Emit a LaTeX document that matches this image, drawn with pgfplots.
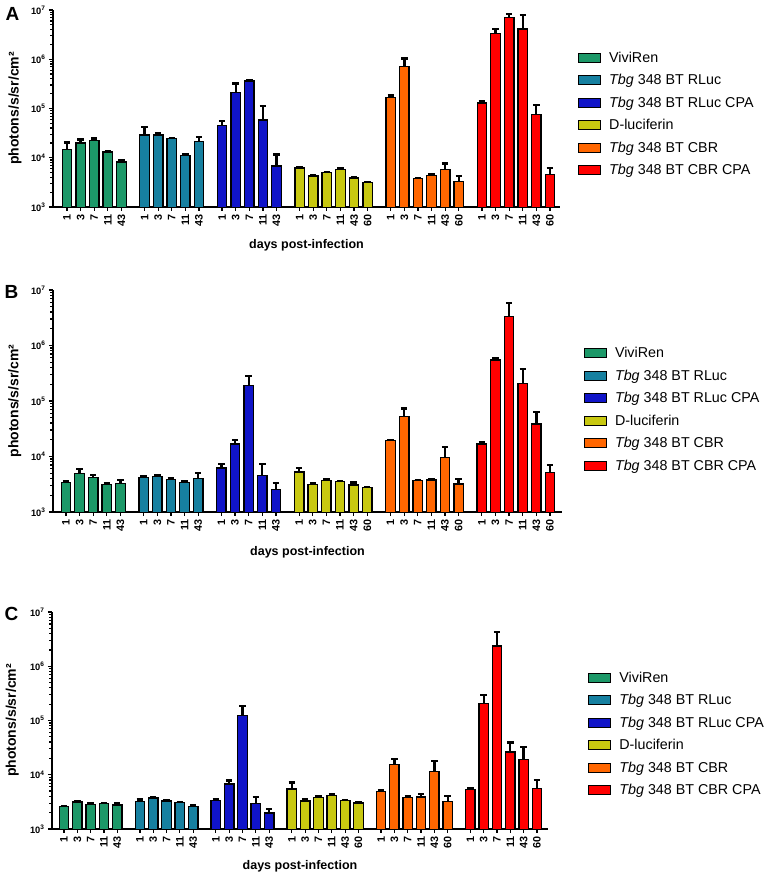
\documentclass[border=0pt]{standalone}
\usepackage{pgfplots}
\pgfplotsset{compat=1.18}
\usepackage{fontspec}
\setmainfont{Liberation Sans}
\definecolor{cgreen}{RGB}{28,152,104}
\definecolor{cteal}{RGB}{22,128,160}
\definecolor{cblue}{RGB}{16,20,200}
\definecolor{cyellow}{RGB}{200,200,16}
\definecolor{corange}{RGB}{255,102,0}
\definecolor{cred}{RGB}{255,0,0}
\pgfplotsset{
  every axis/.append style={
    scale only axis,
    axis lines*=left,
    x axis line style={-, line width=1.6pt}, y axis line style={-, line width=1.6pt},
    tick align=outside, major tick length=4pt, minor tick length=2.5pt,
    tick style={black, line width=1.2pt},
    ytick={1000,10000,100000,1000000,10000000},
    yticklabels={10\textsuperscript{3},10\textsuperscript{4},10\textsuperscript{5},10\textsuperscript{6},10\textsuperscript{7}},
    yticklabel style={font=\bfseries\fontsize{9.3}{10}\selectfont},
    xtick={0,1,2,3,4,5.7,6.7,7.7,8.7,9.7,11.4,12.4,13.4,14.4,15.4,17.1,18.1,19.1,20.1,21.1,22.1,23.8,24.8,25.8,26.8,27.8,28.8,30.5,31.5,32.5,33.5,34.5,35.5},
    xticklabels={1,3,7,11,43,1,3,7,11,43,1,3,7,11,43,1,3,7,11,43,60,1,3,7,11,43,60,1,3,7,11,43,60},
    xticklabel style={rotate=90, anchor=east, font=\bfseries\fontsize{10.8}{11}\selectfont},
    xlabel style={font=\bfseries\fontsize{12.5}{13}\selectfont, anchor=center},
    ylabel style={font=\bfseries\fontsize{14}{15}\selectfont, anchor=center},
    legend cell align=left,
    legend style={draw=none, fill=none, anchor=west, font=\fontsize{14.3}{15}\selectfont,
      row sep=6.6pt, column sep=6pt},
  },
  mybars/.style={ybar, bar width=9.5pt, bar shift=0pt, draw=black, line width=1.3pt, fill=#1,
    error bars/y dir=plus, error bars/y explicit,
    error bars/error bar style={line width=2.3pt, black},
    error bars/error mark options={rotate=90, line width=2.3pt, black, mark size=3.2pt},
    legend image code/.code={\draw[fill=#1, draw=black, line width=1pt] (0pt,-4.5pt) rectangle (22pt,4.5pt);}},
}
\begin{document}
\begin{tikzpicture}
\useasboundingbox (0pt,0pt) rectangle (768pt,878pt);
\node[font=\bfseries\fontsize{19}{19}\selectfont] at (12.5pt,864.5pt) {A};
\node[font=\bfseries\fontsize{19}{19}\selectfont] at (11.5pt,586pt) {B};
\node[font=\bfseries\fontsize{19}{19}\selectfont] at (11.5pt,264pt) {C};
% ---------------- Panel A
\begin{axis}[ymode=log, ymin=1000, ymax=10000000,
  at={(53pt,671pt)}, anchor=south west, width=507pt, height=197pt, xmin=-1.03, xmax=36.24,
  xlabel={days post-infection}, ylabel={photons/s/sr/cm²},
  xlabel style={at={(axis description cs:0.5,-0.193)}},
  ylabel style={at={(axis description cs:-0.075,0.5)}},
  legend style={at={(axis description cs:1.0296,0.472)}}]
\addplot[mybars=cgreen] table[x=x,y=y,y error plus=e,row sep=\\] {x y e\\ 0 14900 5400\\ 1 20000 3400\\ 2 22700 1800\\ 3 13100 700\\ 4 8200 600\\};
\addplot[mybars=cteal] table[x=x,y=y,y error plus=e,row sep=\\] {x y e\\ 5.7 29100 12700\\ 6.7 29000 2000\\ 7.7 24500 900\\ 8.7 11100 500\\ 9.7 21700 4400\\};
\addplot[mybars=cblue] table[x=x,y=y,y error plus=e,row sep=\\] {x y e\\ 11.4 45100 11000\\ 12.4 211000 112000\\ 13.4 360000 15000\\ 14.4 58000 53000\\ 15.4 6800 4800\\};
\addplot[mybars=cyellow] table[x=x,y=y,y error plus=e,row sep=\\] {x y e\\ 17.1 6200 300\\ 18.1 4270 150\\ 19.1 4990 200\\ 20.1 5840 450\\ 21.1 3890 200\\ 22.1 3130 120\\};
\addplot[mybars=corange] table[x=x,y=y,y error plus=e,row sep=\\] {x y e\\ 23.8 165000 19000\\ 24.8 704000 336000\\ 25.8 3770 150\\ 26.8 4400 200\\ 27.8 5750 1850\\ 28.8 3330 870\\};
\addplot[mybars=cred] table[x=x,y=y,y error plus=e,row sep=\\] {x y e\\ 30.5 130000 12000\\ 31.5 3350000 700000\\ 32.5 7100000 1200000\\ 33.5 4100000 3800000\\ 34.5 75500 41500\\ 35.5 4600 1600\\};
\legend{ViviRen,\textit{Tbg} 348 BT RLuc,\textit{Tbg} 348 BT RLuc CPA,D-luciferin,\textit{Tbg} 348 BT CBR,\textit{Tbg} 348 BT CBR CPA}
\end{axis}
% ---------------- Panel B
\begin{axis}[ymode=log, ymin=1000, ymax=10000000,
  at={(53pt,366pt)}, anchor=south west, width=509pt, height=222pt, xmin=-0.95, xmax=36.38,
  xlabel={days post-infection}, ylabel={photons/s/sr/cm²},
  xlabel style={at={(axis description cs:0.5,-0.18)}},
  ylabel style={at={(axis description cs:-0.075,0.5)}},
  legend style={at={(axis description cs:1.037,0.461)}}]
\addplot[mybars=cgreen] table[x=x,y=y,y error plus=e,row sep=\\] {x y e\\ 0 3430 190\\ 1 4980 890\\ 2 4160 480\\ 3 3150 150\\ 4 3290 480\\};
\addplot[mybars=cteal] table[x=x,y=y,y error plus=e,row sep=\\] {x y e\\ 5.7 4160 340\\ 6.7 4390 200\\ 7.7 3880 150\\ 8.7 3430 150\\ 9.7 4040 1070\\};
\addplot[mybars=cblue] table[x=x,y=y,y error plus=e,row sep=\\] {x y e\\ 11.4 6210 1120\\ 12.4 16800 3000\\ 13.4 191000 91000\\ 14.4 4510 2820\\ 15.4 2560 730\\};
\addplot[mybars=cyellow] table[x=x,y=y,y error plus=e,row sep=\\] {x y e\\ 17.1 5260 1030\\ 18.1 3150 150\\ 19.1 3720 170\\ 20.1 3520 120\\ 21.1 3070 310\\ 22.1 2740 120\\};
\addplot[mybars=corange] table[x=x,y=y,y error plus=e,row sep=\\] {x y e\\ 23.8 19300 600\\ 24.8 52200 20600\\ 25.8 3670 100\\ 26.8 3770 100\\ 27.8 9660 5140\\ 28.8 3200 730\\};
\addplot[mybars=cred] table[x=x,y=y,y error plus=e,row sep=\\] {x y e\\ 30.5 16800 1700\\ 31.5 548000 55000\\ 32.5 3310000 2440000\\ 33.5 208000 169000\\ 34.5 38500 25700\\ 35.5 5110 1820\\};
\legend{ViviRen,\textit{Tbg} 348 BT RLuc,\textit{Tbg} 348 BT RLuc CPA,D-luciferin,\textit{Tbg} 348 BT CBR,\textit{Tbg} 348 BT CBR CPA}
\end{axis}
% ---------------- Panel C
\begin{axis}[ymode=log, ymin=1000, ymax=10000000,
  at={(52pt,49pt)}, anchor=south west, width=496pt, height=217pt, xmin=-0.9, xmax=36.33,
  xlabel={days post-infection}, ylabel={photons/s/sr/cm²},
  xlabel style={at={(axis description cs:0.5,-0.17)}},
  ylabel style={at={(axis description cs:-0.08,0.5)}},
  legend style={at={(axis description cs:1.075,0.437)}}]
\addplot[mybars=cgreen] table[x=x,y=y,y error plus=e,row sep=\\] {x y e\\ 0 2610 80\\ 1 3140 100\\ 2 2840 200\\ 3 2930 120\\ 4 2770 280\\};
\addplot[mybars=cteal] table[x=x,y=y,y error plus=e,row sep=\\] {x y e\\ 5.7 3230 280\\ 6.7 3720 170\\ 7.7 3270 150\\ 8.7 3050 100\\ 9.7 2610 100\\};
\addplot[mybars=cblue] table[x=x,y=y,y error plus=e,row sep=\\] {x y e\\ 11.4 3370 150\\ 12.4 6730 1140\\ 13.4 122000 64000\\ 14.4 2970 910\\ 15.4 1970 360\\};
\addplot[mybars=cyellow] table[x=x,y=y,y error plus=e,row sep=\\] {x y e\\ 17.1 5450 1770\\ 18.1 3270 350\\ 19.1 3830 250\\ 20.1 4110 360\\ 21.1 3320 150\\ 22.1 3010 130\\};
\addplot[mybars=corange] table[x=x,y=y,y error plus=e,row sep=\\] {x y e\\ 23.8 4930 200\\ 24.8 15300 4400\\ 25.8 3830 150\\ 26.8 3880 590\\ 27.8 11500 6600\\ 28.8 3230 880\\};
\addplot[mybars=cred] table[x=x,y=y,y error plus=e,row sep=\\] {x y e\\ 30.5 5300 300\\ 31.5 208000 85000\\ 32.5 2370000 1970000\\ 33.5 26100 13300\\ 34.5 19200 13600\\ 35.5 5530 2440\\};
\legend{ViviRen,\textit{Tbg} 348 BT RLuc,\textit{Tbg} 348 BT RLuc CPA,D-luciferin,\textit{Tbg} 348 BT CBR,\textit{Tbg} 348 BT CBR CPA}
\end{axis}
\end{tikzpicture}
\end{document}
